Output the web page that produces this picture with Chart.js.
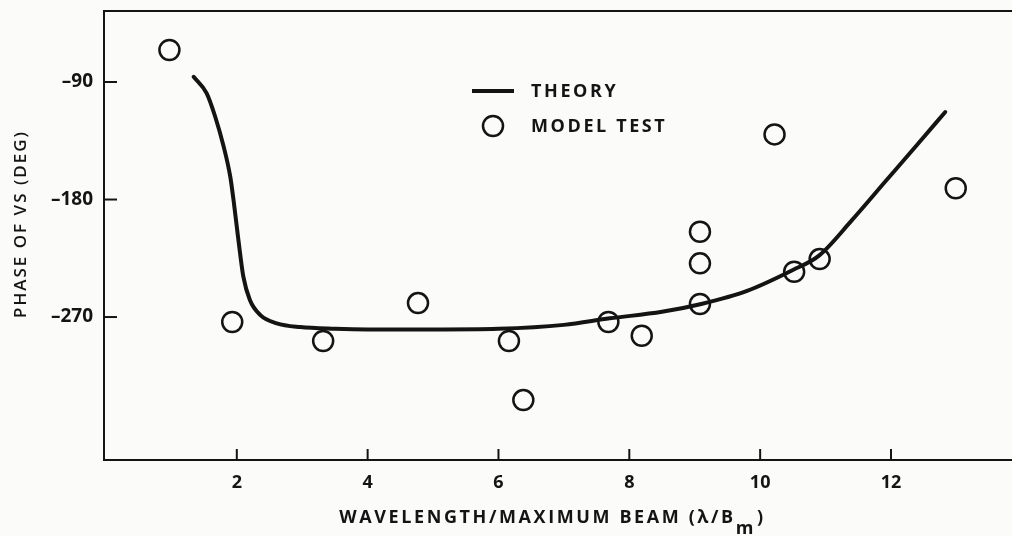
<!DOCTYPE html>
<html>
<head>
<meta charset="utf-8">
<script src="https://cdn.jsdelivr.net/npm/chart.js@4.4.1/dist/chart.umd.min.js"></script>
<style>
  html, body { margin: 0; padding: 0; background: #fbfbfa; overflow: hidden; }
  #wrap { width: 1012px; height: 536px; position: relative; }
</style>
</head>
<body>
<div id="wrap"><canvas id="chart" width="1012" height="536"></canvas></div>
<script>
// theory curve (lambda/Bm, phase deg)
const theoryX = [1.34, 1.54, 1.67, 1.8, 1.9, 1.95, 2.0, 2.05, 2.1, 2.2, 2.36, 2.61, 2.97, 3.5, 4, 5, 6, 7, 7.7, 8.5, 9.1, 9.8, 10.5, 10.9, 11.4, 11.9, 12.4, 12.83];
const theoryY = [-86, -98.7, -116.6, -139.6, -162.5, -180.4, -200.8, -221.2, -239.1, -257, -268.5, -274.8, -277.7, -279, -279.5, -279.5, -279, -276, -271, -266, -260, -250, -234, -223, -196, -167, -138, -113];

// model test points
const testX = [0.97, 1.93, 3.32, 4.77, 6.16, 6.38, 7.68, 8.19, 9.08, 9.08, 9.08, 10.22, 10.52, 10.91, 12.99];
const testY = [-65.5, -273.8, -288.4, -259.3, -288.4, -333.6, -273.8, -284.3, -204.7, -228.9, -260, -130.1, -235.3, -225.6, -171.4];

const xTicks = [2, 4, 6, 8, 10, 12];
const yTicks = [-90, -180, -270];

const INK = '#141414';
const FONT = "'Open Sans', sans-serif";

const decorations = {
    id: 'decorations',
    afterDraw(chart) {
        const ctx = chart.ctx;
        const area = chart.chartArea;
        const xs = chart.scales.x, ys = chart.scales.y;
        ctx.save();
        ctx.strokeStyle = INK;
        ctx.lineWidth = 2;
        // top frame line
        ctx.beginPath();
        ctx.moveTo(area.left, area.top);
        ctx.lineTo(area.right, area.top);
        ctx.stroke();
        // inward tick marks
        xTicks.forEach(v => {
            const px = xs.getPixelForValue(v);
            ctx.beginPath();
            ctx.moveTo(px, area.bottom);
            ctx.lineTo(px, area.bottom - 11);
            ctx.stroke();
        });
        yTicks.forEach(v => {
            const py = ys.getPixelForValue(v);
            ctx.beginPath();
            ctx.moveTo(area.left, py);
            ctx.lineTo(area.left + 13, py);
            ctx.stroke();
        });

        // legend
        ctx.fillStyle = INK;
        ctx.font = "700 18px " + FONT;
        ctx.letterSpacing = '2.6px';
        ctx.textBaseline = 'middle';
        ctx.textAlign = 'left';
        ctx.lineWidth = 4;
        ctx.beginPath();
        ctx.moveTo(472, 91);
        ctx.lineTo(514, 91);
        ctx.stroke();
        ctx.fillText('THEORY', 531, 92);
        ctx.lineWidth = 2.5;
        ctx.beginPath();
        ctx.arc(493, 126, 10, 0, Math.PI * 2);
        ctx.stroke();
        ctx.fillText('MODEL TEST', 531, 127);

        // x axis title with subscript
        ctx.font = "700 18px " + FONT;
        ctx.letterSpacing = '2.6px';
        ctx.textBaseline = 'alphabetic';
        const main = 'WAVELENGTH/MAXIMUM BEAM (\u03BB/B';
        const sub = 'm';
        const close = ')';
        const wMain = ctx.measureText(main).width;
        const wSub = ctx.measureText(sub).width;
        const wClose = ctx.measureText(close).width;
        let x0 = 552 - (wMain + wSub + wClose) / 2;
        ctx.fillText(main, x0, 523);
        ctx.fillText(sub, x0 + wMain, 534);
        ctx.fillText(close, x0 + wMain + wSub + 1, 523);

        // y axis title
        ctx.translate(21, 224);
        ctx.rotate(-Math.PI / 2);
        ctx.textAlign = 'center';
        ctx.textBaseline = 'middle';
        ctx.font = "600 17px " + FONT;
        ctx.letterSpacing = '2px';
        ctx.fillText('PHASE OF VS (DEG)', 0, 0);
        ctx.restore();
    }
};

new Chart(document.getElementById('chart'), {
    type: 'scatter',
    data: {
        datasets: [
            {
                label: 'THEORY',
                type: 'line',
                data: theoryX.map((x, i) => ({ x: x, y: theoryY[i] })),
                borderColor: INK,
                borderWidth: 4,
                pointRadius: 0,
                fill: false,
                cubicInterpolationMode: 'monotone',
                borderCapStyle: 'round'
            },
            {
                label: 'MODEL TEST',
                data: testX.map((x, i) => ({ x: x, y: testY[i] })),
                pointStyle: 'circle',
                pointRadius: 10,
                pointBorderWidth: 2.5,
                pointBorderColor: INK,
                pointBackgroundColor: 'rgba(0,0,0,0)'
            }
        ]
    },
    options: {
        responsive: false,
        animation: false,
        devicePixelRatio: 1,
        layout: { autoPadding: false, padding: { top: 11, right: 0, left: 0, bottom: 0 } },
        plugins: { legend: { display: false }, tooltip: { enabled: false } },
        scales: {
            x: {
                type: 'linear',
                min: -0.03,
                max: 13.85,
                afterFit: s => { s.height = 76; s.paddingLeft = 0; s.paddingRight = 0; },
                afterBuildTicks: s => { s.ticks = xTicks.map(v => ({ value: v })); },
                grid: { display: true, drawOnChartArea: false, drawTicks: false },
                border: { display: true, color: INK, width: 2 },
                ticks: {
                    padding: 12,
                    color: INK,
                    font: { family: "'Open Sans', sans-serif", size: 18, weight: '700' },
                    callback: v => String(v)
                }
            },
            y: {
                type: 'linear',
                min: -379.5,
                max: -35.6,
                afterFit: s => { s.width = 104; s.paddingTop = 0; s.paddingBottom = 0; },
                afterBuildTicks: s => { s.ticks = yTicks.map(v => ({ value: v })); },
                grid: { display: true, drawOnChartArea: false, drawTicks: false },
                border: { display: true, color: INK, width: 2 },
                ticks: {
                    padding: 11,
                    color: INK,
                    font: { family: "'Open Sans', sans-serif", size: 19, weight: '700' },
                    callback: v => '\u2013' + Math.abs(v)
                }
            }
        }
    },
    plugins: [decorations]
});
</script>
</body>
</html>
